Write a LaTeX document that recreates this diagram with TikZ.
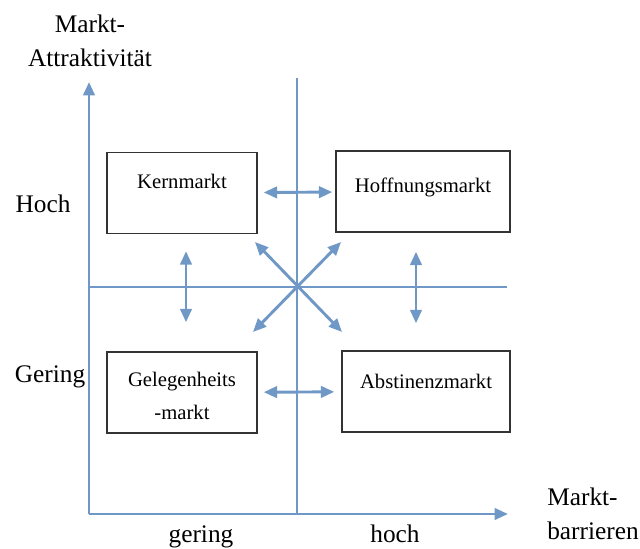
\documentclass[tikz,border=0pt]{standalone}
\usepackage{fontspec}
\setmainfont{Liberation Serif}
\usetikzlibrary{arrows.meta}
\definecolor{achsblau}{RGB}{112,152,198}

\begin{document}
\begin{tikzpicture}[x=0.75pt, y=-0.75pt,
    achse/.style = {draw=achsblau, line width=2.2pt},
    pfeil/.style = {achse, -{Triangle[length=10pt,width=8.5pt]}},
    doppel/.style = {achse, {Triangle[length=10pt,width=8.5pt]}-{Triangle[length=10pt,width=8.5pt]}},
    feld/.style = {draw=black!80, line width=1.1pt, minimum height=60.75pt, inner sep=0pt},
    feldtext/.style = {font=\fontsize{15.5}{25}\selectfont, align=center},
    beschr/.style = {font=\fontsize{19}{25.5}\selectfont, align=center}]
  \useasboundingbox (0,0) rectangle (640,549);

  % Achsen und Trennlinien
  \coordinate (o) at (89,514);
  \coordinate (ytip) at (89,82);
  \coordinate (xtip) at (508,514);
  \coordinate (mtop) at (297,78);
  \coordinate (mbot) at (297,514);
  \coordinate (mleft) at (89,287);
  \coordinate (mright) at (507,287);
  \draw[pfeil] (o) -- (ytip);
  \draw[pfeil] (o) -- (xtip);
  \draw[achse] (mtop) -- (mbot);
  \draw[achse] (mleft) -- (mright);

  % Felder
  \node[feld, minimum width=112.5pt] (kern) at (182,193) {};
  \node[feld, minimum width=130.5pt] (hoff) at (423,191.5) {};
  \node[feld, minimum width=112.5pt] (gelegen) at (182,392.5) {};
  \node[feld, minimum width=126pt] (abst) at (426,391.5) {};
  \node[feldtext] (kern-t) at (182,181) {Kernmarkt};
  \node[feldtext] (hoff-t) at (423,187) {Hoffnungsmarkt};
  \node[feldtext] (gelegen-t) at (182,396) {Gelegenheits\\-markt};
  \node[feldtext] (abst-t) at (426,381) {Abstinenzmarkt};

  % Beschriftungen
  \node[beschr] (attr) at (90,41) {Markt-\\Attraktivität};
  \node[beschr, align=left] (barr) at (593,514) {Markt-\\barrieren};
  \node[beschr] (hoch-y) at (43,204) {Hoch};
  \node[beschr] (gering-y) at (50,377) {Gering};
  \node[beschr, anchor=base] (gering-x) at (201,542) {gering};
  \node[beschr, anchor=base] (hoch-x) at (395,542) {hoch};

  % Pfeile zwischen den Feldern
  \draw[doppel, shorten <=4.5pt, shorten >=2.25pt] (kern) -- (hoff);
  \draw[doppel, shorten <=4.5pt, shorten >=5.25pt] (gelegen) -- (abst);
  \draw[doppel, shorten <=12.75pt, shorten >=21.75pt] ([xshift=3pt]kern.south) -- ([xshift=3pt]gelegen.north);
  \draw[doppel, shorten <=14.25pt, shorten >=20.25pt] ([xshift=-5.25pt]hoff.south) -- ([xshift=-7.5pt]abst.north);

  % Diagonalen
  \coordinate (nw) at (255,242);
  \coordinate (ne) at (341,242);
  \coordinate (sw) at (253,332);
  \coordinate (se) at (342,332);
  \draw[doppel] (nw) -- (se);
  \draw[doppel] (ne) -- (sw);
\end{tikzpicture}
\end{document}
